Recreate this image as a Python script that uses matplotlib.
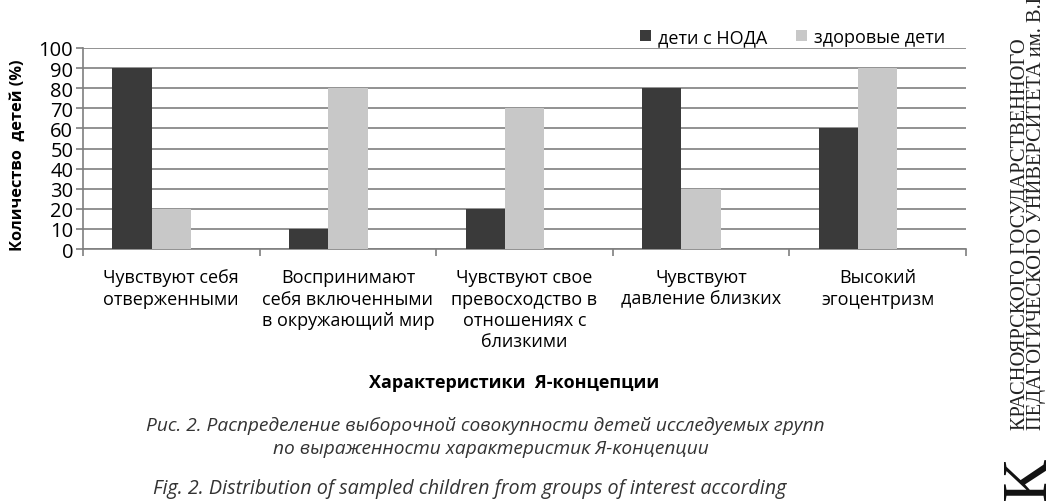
import matplotlib
matplotlib.use("Agg")
import matplotlib.pyplot as plt
import numpy as np

categories = [
    "Чувствуют себя\nотверженными",
    "Воспринимают\nсебя включенными\nв окружающий мир",
    "Чувствуют свое\nпревосходство в\nотношениях с\nблизкими",
    "Чувствуют\nдавление близких",
    "Высокий\nэгоцентризм",
]
series_names = ["дети с НОДА", "здоровые дети"]
noda = [90, 10, 20, 80, 60]
healthy = [20, 80, 70, 30, 90]
yticks = list(range(0, 101, 10))

plt.rcParams['font.family'] = ['Open Sans', 'DejaVu Sans']

W, H = 1048, 502
fig = plt.figure(figsize=(W / 100, H / 100), dpi=100)
ax = fig.add_axes([83 / W, 1 - 250 / H, (966 - 83) / W, (250 - 49) / H])

n = len(categories)
x = np.arange(n)
# Excel-like clustered layout with 3 series slots (third empty), gap width 150%
slot = 1 / 4.5
start = -0.5 + 0.75 * slot
ax.bar(x + start + 0.5 * slot, noda, width=slot, color="#3a3a3a",
       label=series_names[0], zorder=3)
ax.bar(x + start + 1.5 * slot, healthy, width=slot, color="#c8c8c8",
       label=series_names[1], zorder=3)

ax.set_xlim(-0.5, n - 0.5)
ax.set_ylim(0, 100)
ax.set_yticks(yticks)
ax.set_yticklabels([str(v) for v in yticks], fontsize=14.5)
ax.yaxis.grid(True, color="#7f7f7f", linewidth=1.2, zorder=0)
ax.set_axisbelow(True)

ax.set_xticks(np.arange(-0.5, n, 1.0))
ax.set_xticklabels([])
ax.set_xticks(x, minor=True)
ax.set_xticklabels(categories, minor=True, fontsize=13, linespacing=1.22)
ax.tick_params(axis='x', which='minor', length=0, pad=14)
ax.tick_params(axis='x', which='major', length=5, color="#7f7f7f", width=1.2)
ax.tick_params(axis='y', length=5, color="#7f7f7f", width=1.2, pad=2)

for s in ["top", "right"]:
    ax.spines[s].set_visible(False)
for s in ["left", "bottom"]:
    ax.spines[s].set_color("#7f7f7f")
    ax.spines[s].set_linewidth(1.2)

ax.set_ylabel("Количество  детей (%)", fontsize=11.8, fontweight="bold")
ax.yaxis.set_label_coords(-57 / (966 - 83), 0.47)

leg = ax.legend(loc="lower right", bbox_to_anchor=(0.985, 0.975), ncol=2,
                frameon=False, fontsize=13, handlelength=0.6, handleheight=0.6,
                handletextpad=0.4, columnspacing=1.6, borderaxespad=0)

fig.text(514 / W, 1 - 383 / H, "Характеристики  Я-концепции", fontsize=13,
         fontweight="bold", ha="center", va="center")
fig.text(485 / W, 1 - 426 / H,
         "Рис. 2. Распределение выборочной совокупности детей исследуемых групп",
         fontsize=13.8, style="italic", ha="center", va="center", color="#333333")
fig.text(491 / W, 1 - 449 / H, "по выраженности характеристик Я-концепции",
         fontsize=13.8, style="italic", ha="center", va="center", color="#333333")
fig.text(470 / W, 1 - 489 / H,
         "Fig. 2. Distribution of sampled children from groups of interest according",
         fontsize=14.2, style="italic", ha="center", va="center", color="#333333")

serif = ['Liberation Serif', 'DejaVu Serif']
fig.text(1020 / W, 1 - 430 / H, "КРАСНОЯРСКОГО ГОСУДАРСТВЕННОГО", rotation=90,
         fontsize=14.8, family=serif, ha="center", va="bottom", color="#222222")
fig.text(1037 / W, 1 - 430 / H, "ПЕДАГОГИЧЕСКОГО УНИВЕРСИТЕТА им. В.П.", rotation=90,
         fontsize=14.8, family=serif, ha="center", va="bottom", color="#222222")
fig.text(1030 / W, 1 - 458 / H, "К", rotation=90, fontsize=46, family=serif,
         ha="center", va="top", color="#111111")

fig.savefig("out.png", dpi=100)
